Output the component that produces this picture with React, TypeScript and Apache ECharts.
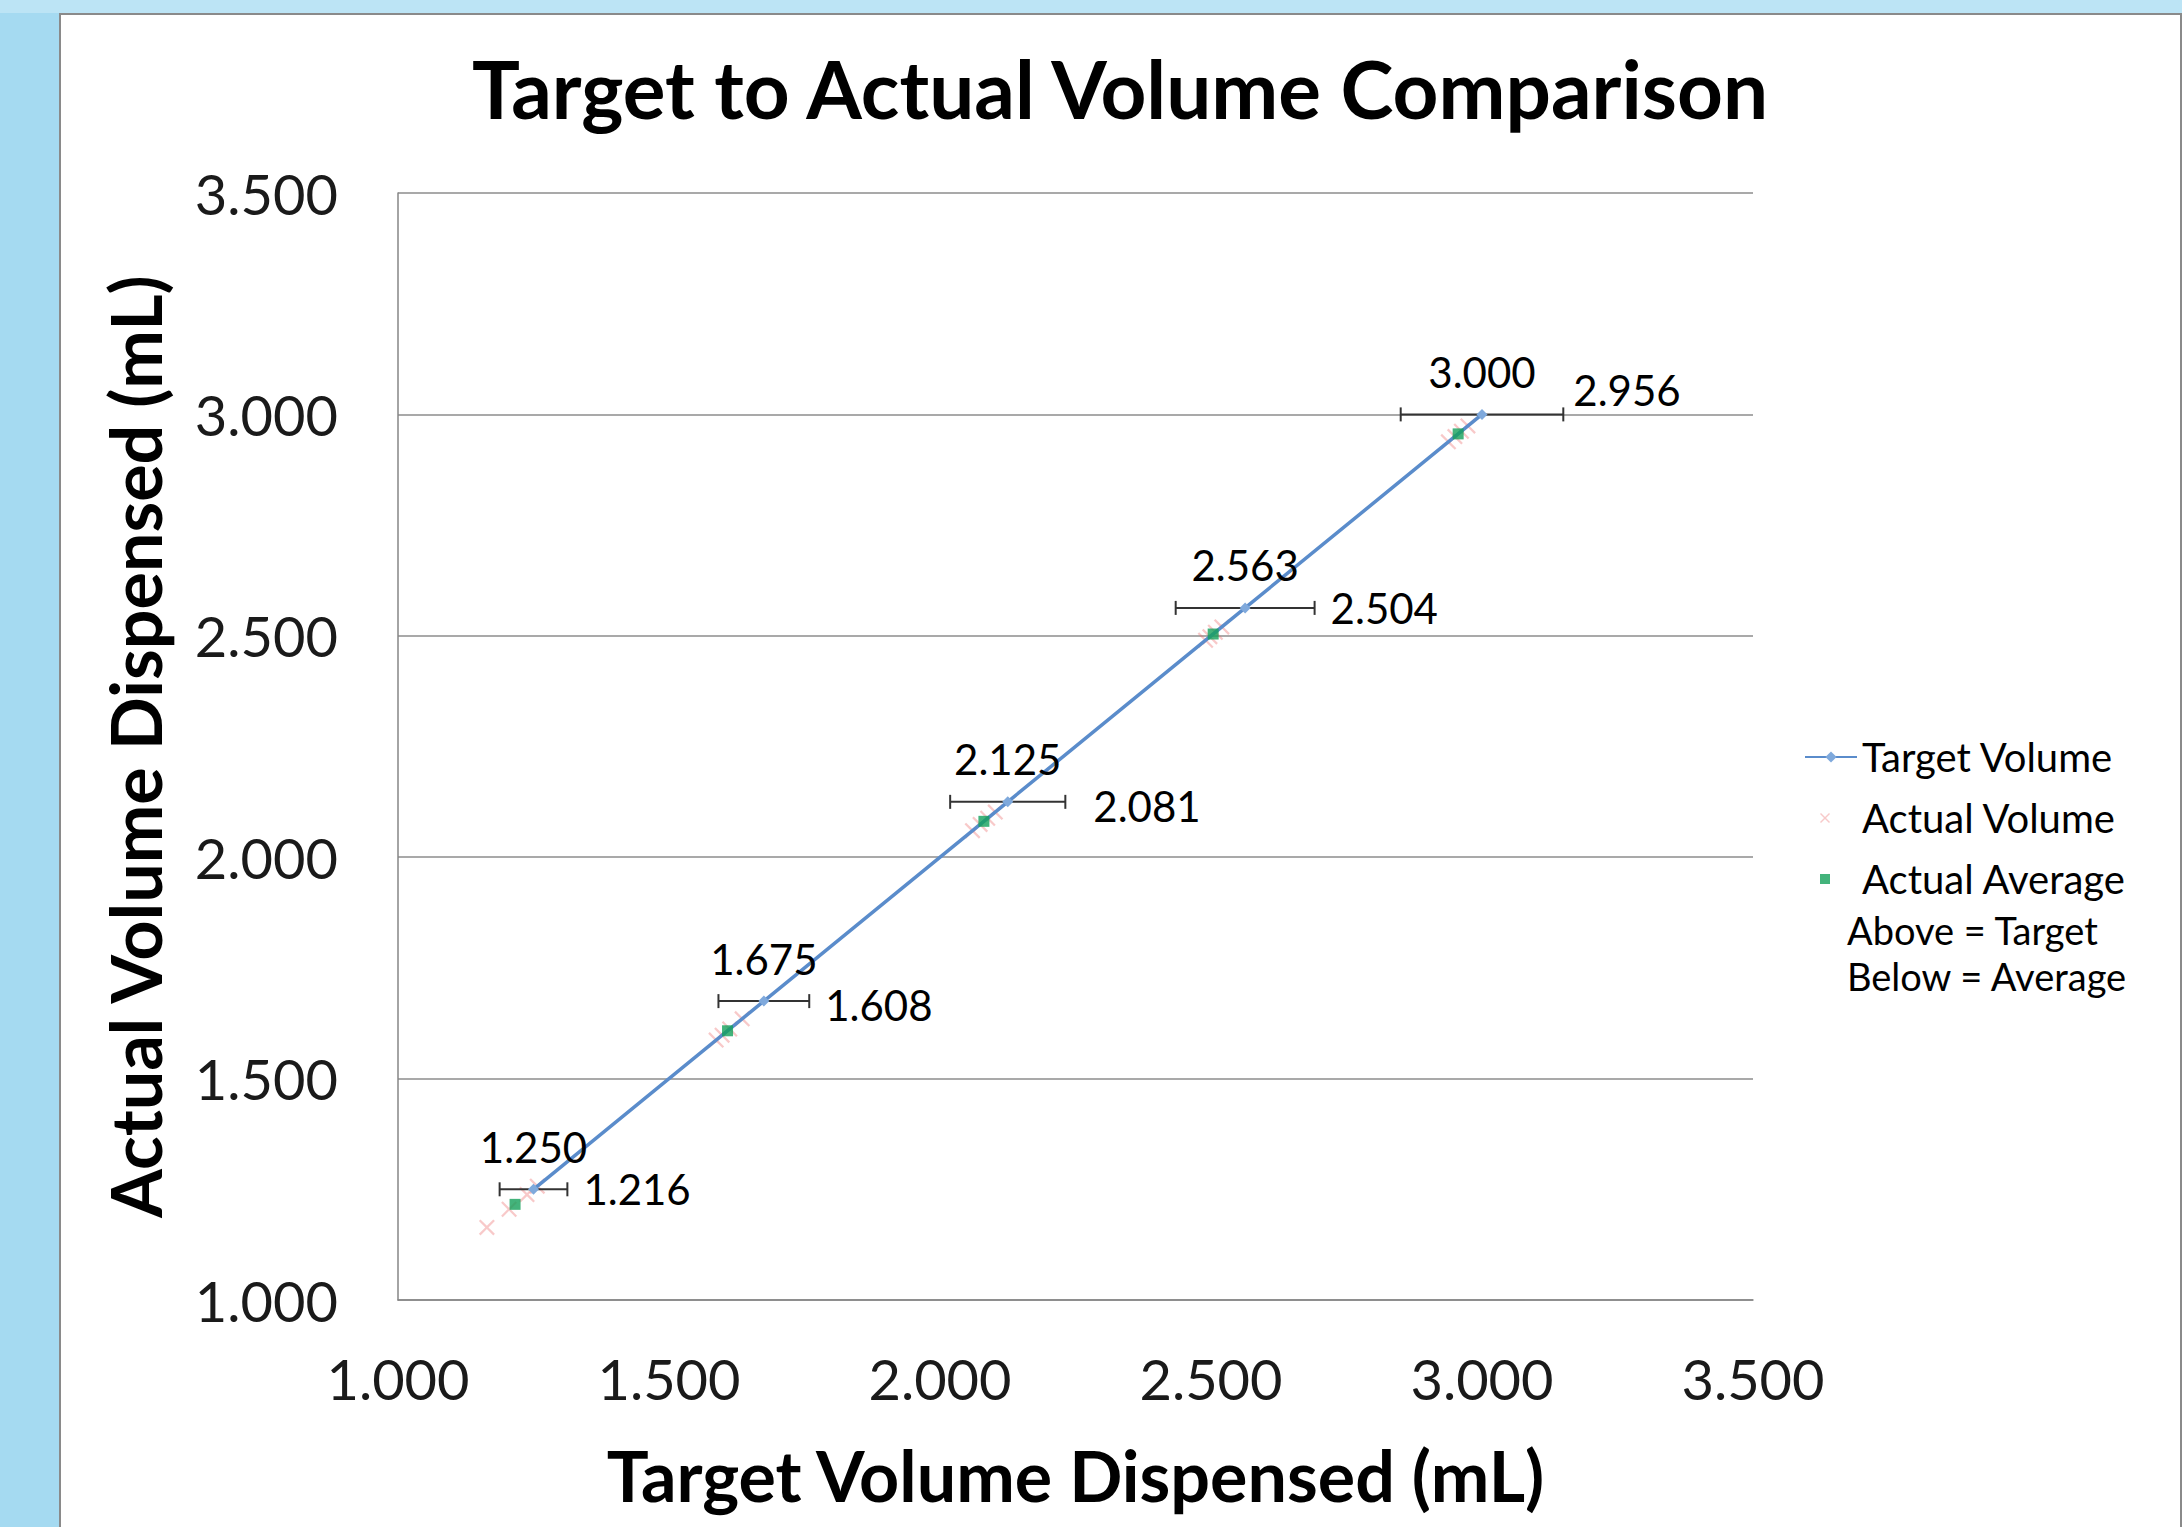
import React, { useEffect, useRef } from "react";
import * as echarts from "echarts";

// ---- data ----
const targets = [1.25, 1.675, 2.125, 2.563, 3.0];
const averages = [1.216, 1.608, 2.081, 2.504, 2.956];
const actualVolumes = [
  [1.164, 1.205, 1.238, 1.257],
  [1.587, 1.598, 1.612, 1.635],
  [2.06, 2.074, 2.088, 2.102],
  [2.49, 2.498, 2.508, 2.52],
  [2.938, 2.95, 2.962, 2.974],
];
const errorPct = 0.05;
const axisMin = 1.0;
const axisMax = 3.5;
const axisStep = 0.5;
const legendNames = ["Target Volume", "Actual Volume", "Actual Average"];
const notes = ["Above = Target", "Below = Average"];
const titleText = "Target to Actual Volume Comparison";
const xName = "Target Volume Dispensed (mL)";
const yName = "Actual Volume Dispensed (mL)";

const FONT = "Lato";

export default function App() {
  const ref = useRef<HTMLDivElement>(null);

  useEffect(() => {
    const chart = echarts.init(ref.current!, null, { renderer: "svg" });

    const targetData = targets.map((t) => [t, t]);
    const avgData = averages.map((a) => [a, a]);
    const actualData = actualVolumes.flat().map((v) => [v, v]);
    const errData = targets.map((t) => [t * (1 - errorPct), t * (1 + errorPct), t]);
    const avgLabelData = targets.map((t, i) => [t * (1 + errorPct), t, averages[i]]);
    // nudges of the "average" labels (style only)
    const avgLabelDy = [0, 4, 4, 0, -24];
    const avgLabelDx = [16, 16, 28, 16, 10];

    const fmt = (v: number) => v.toFixed(3);

    const pad = "M0,0h0.01v0.01h-0.01zM52,14h-0.01v-0.01h0.01z";
    const squareIcon = "path://" + pad + "M15,2h10v10h-10z";
    const crossIcon =
      "path://" + pad + "M15,3L16,2L20,6L24,2L25,3L21,7L25,11L24,12L20,8L16,12L15,11L19,7Z";

    chart.setOption({
      animation: false,
      backgroundColor: "transparent",
      textStyle: { fontFamily: FONT },
      title: {
        text: titleText,
        left: 1115,
        top: 43,
        textAlign: "center",
        textStyle: { fontSize: 80, fontWeight: "bold", color: "#000", fontFamily: FONT },
      },
      grid: { left: 398, right: 429, top: 193, bottom: 227 },
      legend: {
        data: [
          { name: legendNames[0] },
          { name: legendNames[1], icon: crossIcon },
          { name: legendNames[2], icon: squareIcon },
        ],
        orient: "vertical",
        left: 1799,
        top: 730,
        itemWidth: 52,
        itemHeight: 14,
        itemGap: 17,
        textStyle: { fontSize: 40, color: "#000", lineHeight: 44, fontFamily: FONT },
      },
      graphic: notes.map((t, i) => ({
        type: "text",
        left: 1847,
        top: 911 + i * 46,
        style: { text: t, fontSize: 38, fontFamily: FONT, fill: "#000" },
      })),
      xAxis: {
        type: "value",
        min: axisMin,
        max: axisMax,
        interval: axisStep,
        name: xName,
        nameLocation: "middle",
        nameGap: 140,
        nameTextStyle: { fontSize: 70, fontWeight: "bold", color: "#000", fontFamily: FONT },
        axisLine: { show: true, lineStyle: { color: "#868686", width: 1.5 } },
        axisTick: { show: false },
        splitLine: { show: false },
        axisLabel: { fontSize: 56, color: "#1a1a1a", margin: 50, formatter: fmt, fontFamily: FONT },
      },
      yAxis: {
        type: "value",
        min: axisMin,
        max: axisMax,
        interval: axisStep,
        name: yName,
        nameLocation: "middle",
        nameGap: 228,
        nameTextStyle: { fontSize: 70, fontWeight: "bold", color: "#000", fontFamily: FONT },
        axisLine: { show: true, lineStyle: { color: "#868686", width: 1.5 } },
        axisTick: { show: false },
        splitLine: { show: true, lineStyle: { color: "#8c8c8c", width: 1.5 } },
        axisLabel: { fontSize: 56, color: "#1a1a1a", margin: 60, formatter: fmt, fontFamily: FONT },
      },
      series: [
        {
          name: "Actual Volume",
          type: "scatter",
          data: actualData,
          symbol: "path://M0,1 L1,0 L5,4 L9,0 L10,1 L6,5 L10,9 L9,10 L5,6 L1,10 L0,9 L4,5 Z",
          symbolSize: 16,
          itemStyle: { color: "rgba(235,105,105,0.45)" },
          z: 2,
        },
        {
          name: "errbar",
          type: "custom",
          data: errData,
          encode: { x: [0, 1], y: 2 },
          renderItem: (params: any, api: any) => {
            const lo = api.coord([api.value(0), api.value(2)]);
            const hi = api.coord([api.value(1), api.value(2)]);
            const c = 7;
            const style = { stroke: "#333333", lineWidth: 2 };
            return {
              type: "group",
              children: [
                { type: "line", shape: { x1: lo[0], y1: lo[1], x2: hi[0], y2: hi[1] }, style },
                { type: "line", shape: { x1: lo[0], y1: lo[1] - c, x2: lo[0], y2: lo[1] + c }, style },
                { type: "line", shape: { x1: hi[0], y1: hi[1] - c, x2: hi[0], y2: hi[1] + c }, style },
              ],
            };
          },
          silent: true,
          z: 3,
        },
        {
          name: "Target Volume",
          type: "line",
          data: targetData,
          symbol: "diamond",
          symbolSize: 11,
          lineStyle: { color: "#5A8CCB", width: 3.5 },
          itemStyle: { color: "#7FA9DC" },
          label: {
            show: true,
            position: "top",
            distance: 16,
            fontSize: 42,
            color: "#000",
            fontFamily: FONT,
            formatter: (p: any) => fmt(p.value[1]),
          },
          z: 4,
        },
        {
          name: "Actual Average",
          type: "scatter",
          data: avgData,
          symbol: "rect",
          symbolSize: 11,
          itemStyle: { color: "#14A05A" },
          z: 5,
        },
        {
          name: "avgLabels",
          type: "custom",
          data: avgLabelData,
          encode: { x: 0, y: 1 },
          renderItem: (params: any, api: any) => {
            const p = api.coord([api.value(0), api.value(1)]);
            const i = params.dataIndex;
            return {
              type: "text",
              x: p[0] + avgLabelDx[i],
              y: p[1] + avgLabelDy[i],
              style: {
                text: fmt(api.value(2)),
                fill: "#000",
                fontSize: 42,
                fontFamily: FONT,
                align: "left",
                verticalAlign: "middle",
              },
            };
          },
          silent: true,
          z: 6,
        },
      ],
    });

    return () => chart.dispose();
  }, []);

  return (
    <div
      style={{
        position: "fixed",
        left: 0,
        top: 0,
        width: 2182,
        height: 1527,
        background: "#A5DAF1",
        overflow: "hidden",
      }}
    >
      <div style={{ position: "absolute", left: 0, top: 0, width: 2182, height: 13, background: "#BCE4F5" }} />
      <div
        style={{
          position: "absolute",
          left: 59,
          top: 13,
          width: 2119,
          height: 1530,
          background: "#fff",
          borderLeft: "2px solid #8a8a8a",
          borderTop: "2px solid #8a8a8a",
          borderRight: "2px solid #8a8a8a",
        }}
      />
      <div ref={ref} style={{ position: "absolute", left: 0, top: 0, width: 2182, height: 1527 }} />
    </div>
  );
}
